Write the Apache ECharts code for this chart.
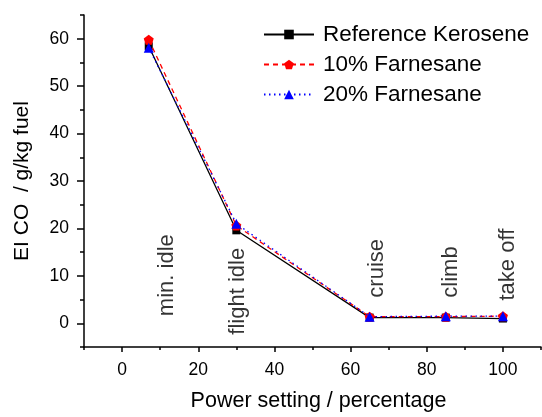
<!DOCTYPE html>
<html>
<head>
<meta charset="utf-8">
<script src="https://cdn.jsdelivr.net/npm/echarts@6/dist/echarts.min.js"></script>
<style>
html,body{margin:0;padding:0;background:#fff;}
#chart{width:542px;height:417px;}
</style>
</head>
<body>
<div id="chart"></div>
<script>
// ---- data ----
const powerSetting = [7, 30, 65, 85, 100];
const kerosene = [58.4, 19.6, 1.2, 1.2, 1.0];
const farnesane10 = [59.8, 20.6, 1.4, 1.4, 1.5];
const farnesane20 = [58.1, 21.0, 1.4, 1.5, 1.5];
const seriesNames = ['Reference Kerosene', '10% Farnesane', '20% Farnesane'];
const xTicks = [0, 20, 40, 60, 80, 100];
const yTicks = [0, 10, 20, 30, 40, 50, 60];
const modeLabels = ['min. idle', 'flight idle', 'cruise', 'climb', 'take off'];
const modeLabelX = [11.8, 30.3, 66.9, 86.4, 101.3];
const modeLabelY = [1.5, -2.4, 5.4, 5.4, 4.8];

const FONT = 'Liberation Sans, Arial, sans-serif';
const pentagon = 'path://M0,-1 L0.951,-0.309 L0.588,0.809 L-0.588,0.809 L-0.951,-0.309 Z';

function pairs(xs, ys) { return xs.map((x, i) => [x, ys[i]]); }

const chart = echarts.init(document.getElementById('chart'), null, {renderer: 'canvas'});
const axisLine = {show: true, onZero: false, lineStyle: {color: '#000', width: 1.5}};

chart.setOption({
  animation: false,
  backgroundColor: '#fff',
  grid: {left: 84, right: 1, top: 15, bottom: 65, containLabel: false},
  legend: {
    data: seriesNames,
    orient: 'vertical',
    left: 263,
    top: 23,
    padding: 0,
    itemWidth: 50,
    itemHeight: 12,
    itemGap: 7,
    textStyle: {fontFamily: FONT, fontSize: 22.5, color: '#000', padding: [0, 0, 0, 4]},
    selectedMode: false
  },
  xAxis: [{
    type: 'value', min: -10, max: 110,
    axisLine: axisLine,
    splitLine: {show: false},
    axisTick: {show: true, inside: false, length: 5, lineStyle: {color: '#000', width: 1.5}, customValues: xTicks},
    axisLabel: {customValues: xTicks, fontFamily: FONT, fontSize: 17.5, color: '#000', margin: 14},
    name: 'Power setting / percentage',
    nameLocation: 'middle',
    nameGap: 43,
    nameTextStyle: {fontFamily: FONT, fontSize: 21.5, color: '#000', padding: [0, 0, 0, 12]}
  }, {
    type: 'value', min: -10, max: 110, interval: 10, position: 'bottom',
    axisLine: {show: false, onZero: false},
    splitLine: {show: false},
    axisTick: {show: true, inside: false, length: 3, lineStyle: {color: '#000', width: 1.5}},
    axisLabel: {show: false}
  }],
  yAxis: [{
    type: 'value', min: -5, max: 65,
    axisLine: axisLine,
    splitLine: {show: false},
    axisTick: {show: true, inside: false, length: 7, lineStyle: {color: '#000', width: 1.5}, customValues: yTicks},
    axisLabel: {customValues: yTicks, fontFamily: FONT, fontSize: 17.5, color: '#000', margin: 15},
    name: 'EI CO  / g/kg fuel',
    nameLocation: 'middle',
    nameGap: 51,
    nameTextStyle: {fontFamily: FONT, fontSize: 21, color: '#000'}
  }, {
    type: 'value', min: -5, max: 65, interval: 5, position: 'left',
    axisLine: {show: false, onZero: false},
    splitLine: {show: false},
    axisTick: {show: true, inside: false, length: 4, lineStyle: {color: '#000', width: 1.5}},
    axisLabel: {show: false}
  }],
  series: [{
    name: seriesNames[0], type: 'line',
    data: pairs(powerSetting, kerosene),
    symbol: 'rect', symbolSize: 8,
    itemStyle: {color: '#000'},
    lineStyle: {color: '#000', width: 1.3, type: 'solid'},
    z: 3
  }, {
    name: seriesNames[1], type: 'line',
    data: pairs(powerSetting, farnesane10),
    symbol: pentagon, symbolSize: 10,
    itemStyle: {color: '#ff0000'},
    lineStyle: {color: '#ff0000', width: 1.3, type: [5, 4]},
    z: 4
  }, {
    name: seriesNames[2], type: 'line',
    data: pairs(powerSetting, farnesane20),
    symbol: 'triangle', symbolSize: 10,
    itemStyle: {color: '#0000ff'},
    lineStyle: {color: '#0000ff', width: 1.3, type: [1.5, 3.5]},
    z: 5
  }, {
    name: 'modes', type: 'scatter',
    data: modeLabels.map((t, i) => ({value: [modeLabelX[i], modeLabelY[i]], name: t})),
    symbolSize: 0,
    silent: true,
    label: {
      show: true, position: 'inside', rotate: 90, align: 'left', verticalAlign: 'middle',
      formatter: p => p.name,
      fontFamily: FONT, fontSize: 22, color: '#000'
    },
    z: 2
  }]
});
</script>
</body>
</html>
